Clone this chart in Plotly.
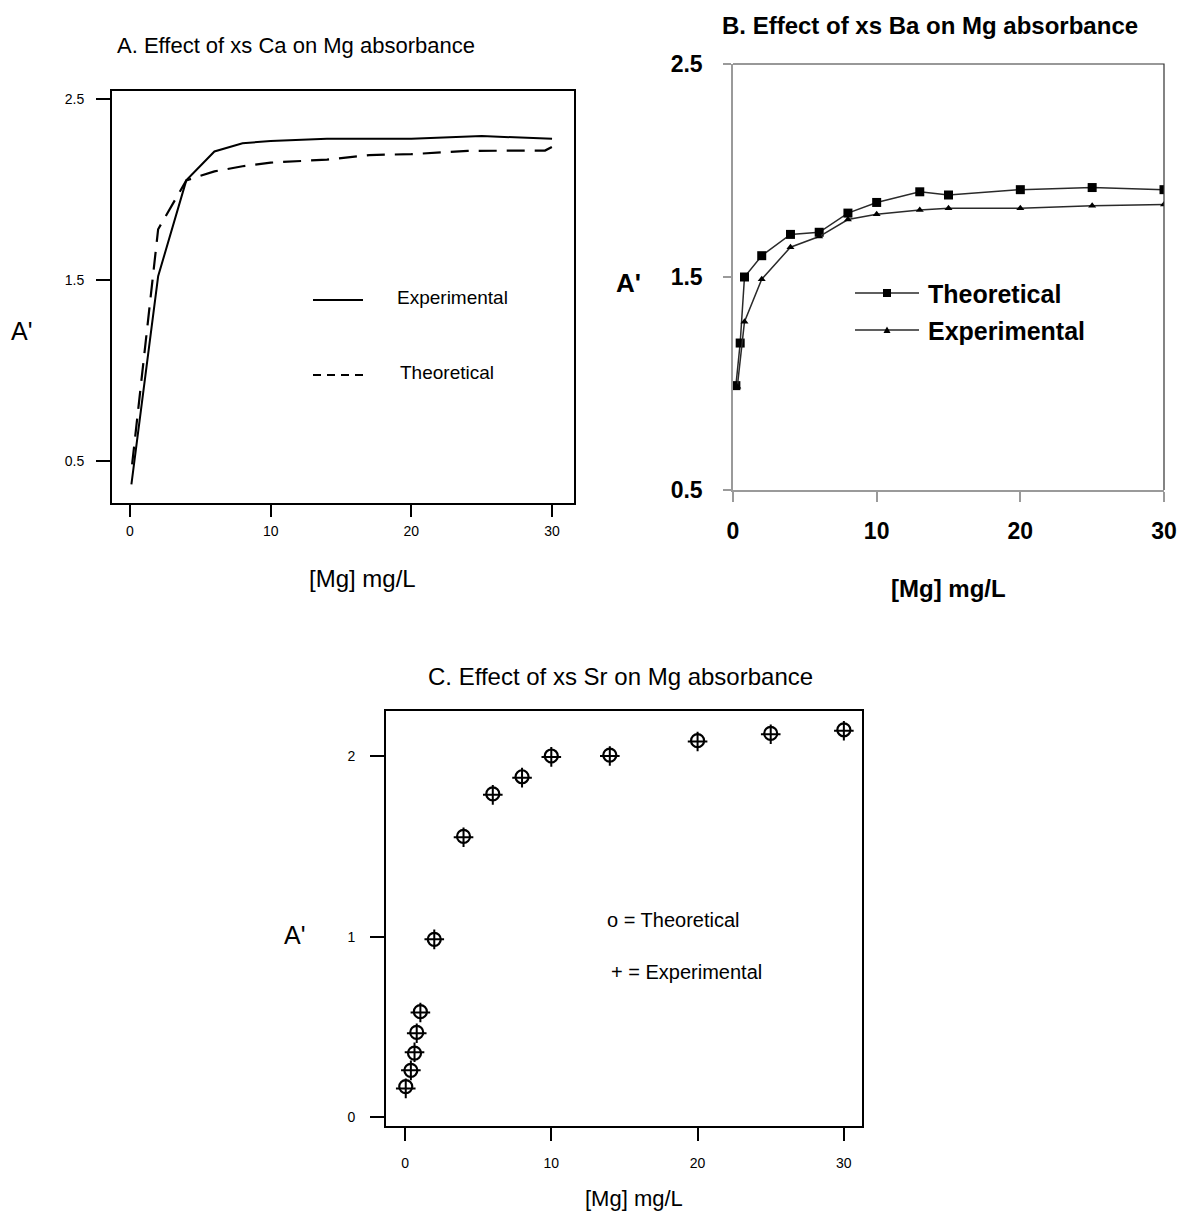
import plotly.graph_objects as go

# ---------------- data ----------------
# Panel A: effect of xs Ca
A_x_exp = [0.1, 2, 4, 6, 8, 10, 14, 20, 25, 30]
A_exp = [0.37, 1.52, 2.05, 2.21, 2.255, 2.268, 2.28, 2.28, 2.295, 2.28]
A_x_theo = [0.15, 2, 4, 6, 8, 10, 14, 17, 20, 24, 29.5, 30]
A_theo = [0.48, 1.78, 2.05, 2.10, 2.128, 2.148, 2.165, 2.19, 2.195, 2.213, 2.215, 2.235]

# Panel B: effect of xs Ba
B_x_theo = [0.2, 0.5, 0.8, 2, 4, 6, 8, 10, 13, 15, 20, 25, 30]
B_theo = [0.99, 1.19, 1.5, 1.6, 1.70, 1.71, 1.80, 1.85, 1.90, 1.885, 1.91, 1.92, 1.91]
B_x_exp = [0.3, 0.8, 2, 4, 6, 8, 10, 13, 15, 20, 25, 30]
B_exp = [0.985, 1.29, 1.49, 1.64, 1.69, 1.77, 1.795, 1.815, 1.823, 1.823, 1.835, 1.84]

# Panel C: effect of xs Sr
C_x = [0.05, 0.4, 0.65, 0.8, 1.05, 2, 4, 6, 8, 10, 14, 20, 25, 30]
C_theo = [0.17, 0.26, 0.355, 0.47, 0.585, 0.985, 1.555, 1.79, 1.885, 2.0, 2.005, 2.085, 2.125, 2.145]
C_exp = [0.16, 0.26, 0.36, 0.465, 0.58, 0.985, 1.55, 1.785, 1.88, 1.995, 2.0, 2.08, 2.12, 2.14]

X_TICKS = [0, 10, 20, 30]
A_Y_TICKS = [0.5, 1.5, 2.5]
B_Y_TICKS = [0.5, 1.5, 2.5]
C_Y_TICKS = [0, 1, 2]

# ---------------- layout helpers ----------------
W, H = 1182, 1218
FONT = "Liberation Sans, Arial, Helvetica, sans-serif"


def px(x):
    return x / W


def py(y):
    return 1 - y / H


fig = go.Figure()

# Panel A traces
fig.add_trace(go.Scatter(x=A_x_exp, y=A_exp, mode="lines", name="Experimental",
                         line=dict(color="black", width=2), xaxis="x", yaxis="y",
                         showlegend=False))
fig.add_trace(go.Scatter(x=A_x_theo, y=A_theo, mode="lines", name="Theoretical",
                         line=dict(color="black", width=2.2, dash="18px,10px"),
                         xaxis="x", yaxis="y", showlegend=False))

# Panel B traces
fig.add_trace(go.Scatter(x=B_x_theo, y=B_theo, mode="lines+markers", name="Theoretical",
                         line=dict(color="#2a2a2a", width=1.5),
                         marker=dict(symbol="square", size=9, color="black"),
                         xaxis="x2", yaxis="y2", showlegend=False))
fig.add_trace(go.Scatter(x=B_x_exp, y=B_exp, mode="lines+markers", name="Experimental",
                         line=dict(color="#2a2a2a", width=1.5),
                         marker=dict(symbol="triangle-up", size=7, color="black"),
                         xaxis="x2", yaxis="y2", showlegend=False))

# Panel C traces
fig.add_trace(go.Scatter(x=C_x, y=C_theo, mode="markers", name="Theoretical",
                         marker=dict(symbol="circle-open", size=13, color="black",
                                     line=dict(width=2.2, color="black")),
                         xaxis="x3", yaxis="y3", showlegend=False))
fig.add_trace(go.Scatter(x=C_x, y=C_exp, mode="markers", name="Experimental",
                         marker=dict(symbol="cross-thin-open", size=14, color="black",
                                     line=dict(width=2, color="black")),
                         xaxis="x3", yaxis="y3", showlegend=False))

common = dict(showgrid=False, zeroline=False, ticks="outside", automargin=False)

layout = dict(
    width=W, height=H,
    margin=dict(l=0, r=0, t=0, b=0, autoexpand=False),
    paper_bgcolor="white", plot_bgcolor="white",
    showlegend=False,
    # Panel A
    xaxis=dict(domain=[px(112), px(574)], range=[-1.28, 31.56], tickvals=X_TICKS,
               showline=True, mirror=True, linecolor="black", linewidth=2,
               ticklen=12, tickwidth=2, tickcolor="black", ticklabelstandoff=2,
               tickfont=dict(family=FONT, size=14, color="black"),
               anchor="y", **common),
    yaxis=dict(domain=[py(503), py(91)], range=[0.267, 2.544], tickvals=A_Y_TICKS,
               ticktext=["0.5", "1.5", "2.5"],
               showline=True, mirror=True, linecolor="black", linewidth=2,
               ticklen=14, tickwidth=2, tickcolor="black", ticklabelstandoff=9,
               tickfont=dict(family=FONT, size=14, color="black"),
               anchor="x", **common),
    # Panel B
    xaxis2=dict(domain=[px(733), px(1164)], range=[0, 30], tickvals=X_TICKS,
                showline=True, linecolor="#9a9a9a", linewidth=1.5,
                ticklen=10, tickwidth=1.5, tickcolor="#9a9a9a", ticklabelstandoff=10,
                tickfont=dict(family=FONT, size=23, color="black", weight="bold"),
                anchor="y2", **common),
    yaxis2=dict(domain=[py(490), py(64)], range=[0.5, 2.5], tickvals=B_Y_TICKS,
                ticktext=["0.5", "1.5", "2.5"],
                showline=True, linecolor="#9a9a9a", linewidth=1.5,
                ticklen=8, tickwidth=1.5, tickcolor="#9a9a9a", ticklabelstandoff=16,
                tickfont=dict(family=FONT, size=23, color="black", weight="bold"),
                anchor="x2", **common),
    # Panel C
    xaxis3=dict(domain=[px(386), px(862)], range=[-1.3, 31.24], tickvals=X_TICKS,
                showline=True, mirror=True, linecolor="black", linewidth=2,
                ticklen=13, tickwidth=2, tickcolor="black", ticklabelstandoff=10,
                tickfont=dict(family=FONT, size=14, color="black"),
                anchor="y3", **common),
    yaxis3=dict(domain=[py(1126), py(711)], range=[-0.048, 2.249], tickvals=C_Y_TICKS,
                showline=True, mirror=True, linecolor="black", linewidth=2,
                ticklen=14, tickwidth=2, tickcolor="black", ticklabelstandoff=12,
                tickfont=dict(family=FONT, size=14, color="black"),
                anchor="x3", **common),
)
fig.update_layout(**layout)


def ann(text, x, y, size, bold=False, xanchor="center"):
    fig.add_annotation(text=text, x=px(x), y=py(y), xref="paper", yref="paper",
                       showarrow=False, xanchor=xanchor, yanchor="middle",
                       font=dict(family=FONT, size=size, color="black",
                                 weight="bold" if bold else "normal"))


# Titles and axis labels
ann("A. Effect of xs Ca on Mg absorbance", 296, 45, 22)
ann("A'", 21, 331, 25)
ann("[Mg] mg/L", 362, 578, 24)

ann("B. Effect of xs Ba on Mg absorbance", 930, 26, 24, bold=True)
ann("A'", 628, 283, 26, bold=True)
ann("[Mg] mg/L", 948, 588, 24, bold=True)

ann("C. Effect of xs Sr on Mg absorbance", 620, 676, 24)
ann("A'", 294, 935, 25)
ann("[Mg] mg/L", 634, 1198, 22)

# Panel A key
fig.add_shape(type="line", xref="paper", yref="paper", x0=px(313), x1=px(363),
              y0=py(300), y1=py(300), line=dict(color="black", width=2))
fig.add_shape(type="line", xref="paper", yref="paper", x0=px(313), x1=px(363),
              y0=py(375), y1=py(375), line=dict(color="black", width=2, dash="8px,6px"))
ann("Experimental", 395, 297, 19, xanchor="left")
ann("Theoretical", 398, 372, 19, xanchor="left")

# Panel B key
for yy in (293, 330):
    fig.add_shape(type="line", xref="paper", yref="paper", x0=px(855), x1=px(919),
                  y0=py(yy), y1=py(yy), line=dict(color="#2a2a2a", width=1.5))
fig.add_shape(type="rect", xref="paper", yref="paper", x0=px(883), x1=px(891),
              y0=py(297), y1=py(289), fillcolor="black", line=dict(width=0))
fig.add_shape(type="path", xref="paper", yref="paper",
              path=f"M {px(883.5)} {py(333)} L {px(890.5)} {py(333)} L {px(887)} {py(326.5)} Z",
              fillcolor="black", line=dict(width=0))
ann("Theoretical", 926, 294, 25, bold=True, xanchor="left")
ann("Experimental", 926, 331, 25, bold=True, xanchor="left")

# Panel B top/right border (darker)
fig.add_shape(type="path", xref="paper", yref="paper",
              path=f"M {px(733)} {py(64)} L {px(1164)} {py(64)} L {px(1164)} {py(490)}",
              line=dict(color="#333333", width=1.2))

# Panel C key
ann("o = Theoretical", 605, 920, 20, xanchor="left")
ann("+ = Experimental", 609, 972, 20, xanchor="left")

fig.write_html("out.html",
               config={"displayModeBar": False},
               post_script="document.body.style.margin='0';"
                           "document.body.style.overflow='hidden';")
